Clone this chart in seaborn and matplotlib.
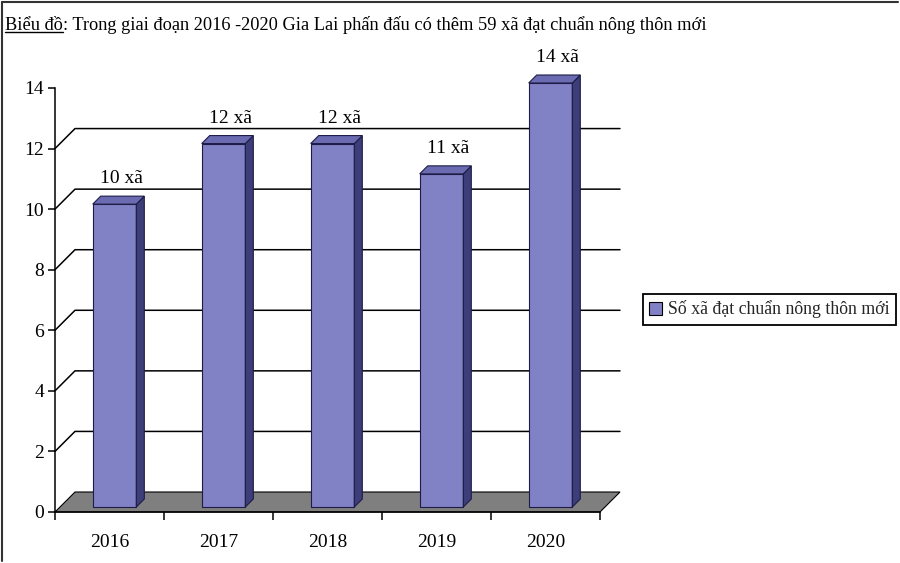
import pandas as pd
import matplotlib
matplotlib.use("Agg")
import matplotlib.pyplot as plt
import seaborn as sns
from matplotlib.patches import Polygon, Patch

# === Data ===
years = ["2016", "2017", "2018", "2019", "2020"]
values = [10, 12, 12, 11, 14]
bar_labels = ["10 xã", "12 xã", "12 xã", "11 xã", "14 xã"]
series_name = "Số xã đạt chuẩn nông thôn mới"
y_ticks = [0, 2, 4, 6, 8, 10, 12, 14]
title_head = "Biểu đồ"
title_rest = ": Trong giai đoạn 2016 -2020 Gia Lai phấn đấu có thêm 59 xã đạt chuẩn nông thôn mới"

# === Colours ===
c_front = "#8181C6"
c_side = "#3D3D7A"
c_top = "#6B6BB2"
c_edge = "#1C1C46"
c_floor = "#7F7F7F"

sns.set_theme(style="white")
plt.rcParams["font.family"] = ["Liberation Serif", "DejaVu Serif"]

W, H = 900, 563
fig = plt.figure(figsize=(W / 100, H / 100), dpi=100)
ax_l, ax_b, ax_w, ax_h = 55, 51, 545, 424
ax = fig.add_axes([ax_l / W, ax_b / H, ax_w / W, ax_h / H])

df = pd.DataFrame({"year": years, "value": values})
sns.barplot(data=df, x="year", y="value", color=c_front, width=0.4,
            saturation=1, edgecolor=c_edge, linewidth=0.8, ax=ax, zorder=3)
ax.set_xlim(-0.5, 4.5)
ax.set_ylim(0, 14)

# pixel -> data units
ux = 5 / ax_w
uy = 14 / ax_h
wall_x, wall_y = 20 * ux, 20 * uy
fx, fy = 5 * ux, 5 * uy      # bar front plane
bx, by = 13 * ux, 13 * uy    # bar back plane

# === pseudo-3D bars ===
bars = list(ax.patches)
for p, lab in zip(bars, bar_labels):
    x0, w, h = p.get_x(), p.get_width(), p.get_height()
    p.set_x(x0 + fx)
    p.set_y(fy)
    p.set_clip_on(False)
    side = Polygon([(x0 + fx + w, fy), (x0 + fx + w, h + fy),
                    (x0 + bx + w, h + by), (x0 + bx + w, by)],
                   closed=True, fc=c_side, ec=c_edge, lw=0.8, zorder=3, clip_on=False)
    top = Polygon([(x0 + fx, h + fy), (x0 + fx + w, h + fy),
                   (x0 + bx + w, h + by), (x0 + bx, h + by)],
                  closed=True, fc=c_top, ec=c_edge, lw=0.8, zorder=3, clip_on=False)
    ax.add_patch(side)
    ax.add_patch(top)
    ax.text(x0 + fx + w / 2 + 7 * ux, h + by + 13 * uy, lab,
            ha="center", va="baseline", fontsize=14, color="black")

# === floor and back wall gridlines ===
floor = Polygon([(-0.5, 0), (4.5, 0), (4.5 + wall_x, wall_y), (-0.5 + wall_x, wall_y)],
                closed=True, fc=c_floor, ec="black", lw=0.8, zorder=1, clip_on=False)
ax.add_patch(floor)
for yv in y_ticks[1:-1]:
    ax.plot([-0.5, -0.5 + wall_x, 4.5 + wall_x], [yv, yv + wall_y, yv + wall_y],
            color="black", lw=1.1, zorder=0.5, clip_on=False)

# === axes ===
for s in ["top", "right"]:
    ax.spines[s].set_visible(False)
for s in ["left", "bottom"]:
    ax.spines[s].set_color("black")
    ax.spines[s].set_linewidth(1.1)
    ax.spines[s].set_zorder(4)
ax.set_yticks(y_ticks)
ax.set_yticklabels([str(t) for t in y_ticks])
ax.set_xticks(range(len(years)))
ax.set_xticklabels(years)
ax.set_xticks([i - 0.5 for i in range(len(years) + 1)], minor=True)
ax.tick_params(axis="y", left=True, length=5, width=1.1, color="black",
               labelsize=14, pad=3, labelcolor="black")
ax.tick_params(axis="x", which="major", bottom=False, labelsize=14, pad=10,
               labelcolor="black")
ax.tick_params(axis="x", which="minor", bottom=True, length=6, width=1.1,
               color="black", direction="out")
ax.set_xlabel("")
ax.set_ylabel("")
ax.patch.set_alpha(0)

# === legend ===
handle = Patch(fc=c_front, ec="black", lw=0.8)
leg = fig.legend([handle], [series_name], loc="center left",
                 bbox_to_anchor=(643 / W, 1 - 309.5 / H), frameon=True,
                 fancybox=False, edgecolor="black", framealpha=1, fontsize=12.8,
                 handlelength=0.7, handleheight=0.7, handletextpad=0.35,
                 borderpad=0.35, borderaxespad=0)
leg.get_frame().set_linewidth(1.3)

# === title with underlined head ===
renderer = fig.canvas.get_renderer()
t1 = fig.text(5 / W, 1 - 25 / H, title_head, ha="left", va="center",
              fontsize=13.2, color="black")
bb = t1.get_window_extent(renderer)
fig.add_artist(plt.Line2D([bb.x0 / W, bb.x1 / W], [(bb.y0 + 2) / H, (bb.y0 + 2) / H],
                          color="black", lw=1, transform=fig.transFigure))
fig.text(bb.x1 / W, 1 - 25 / H, title_rest, ha="left", va="center",
         fontsize=13.2, color="black")

# === outer frame (top and left edges) ===
fig.add_artist(plt.Line2D([2 / W, 898 / W], [1 - 2 / H, 1 - 2 / H], color="#333333",
                          lw=1.5, transform=fig.transFigure))
fig.add_artist(plt.Line2D([2 / W, 2 / W], [1 - 2 / H, 2 / H], color="#333333",
                          lw=1.5, transform=fig.transFigure))

fig.savefig("out.png", dpi=100)
